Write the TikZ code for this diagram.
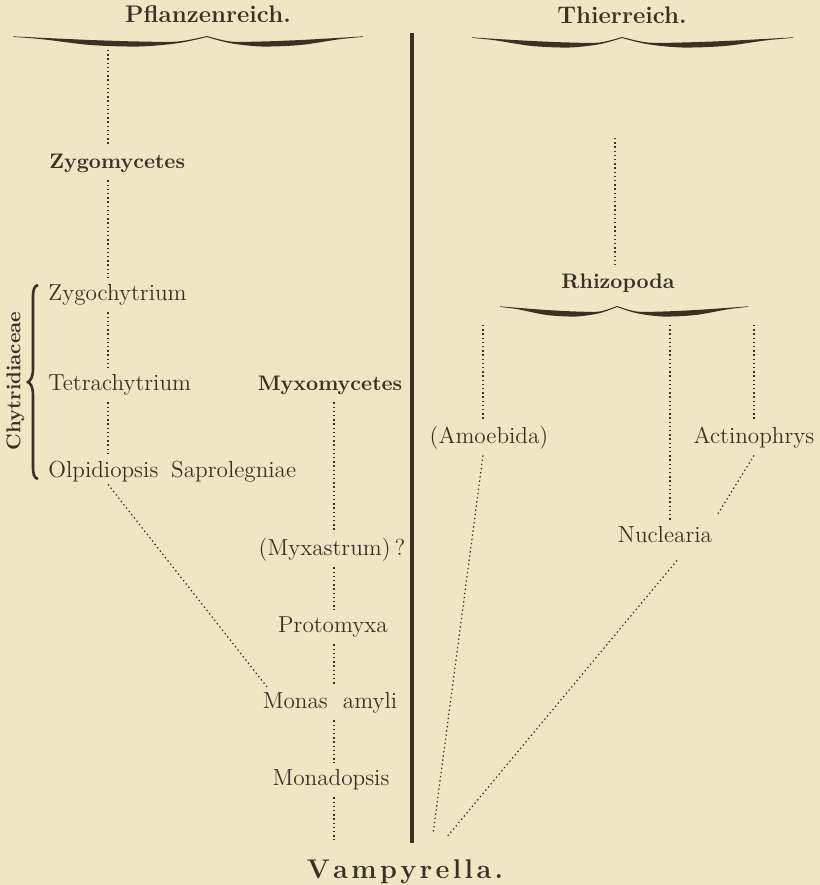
\documentclass[tikz,border=0pt]{standalone}
\usepackage{fontspec}
\usepackage{xcolor}
\usepackage{tikz}
\usetikzlibrary{positioning,calc}
\definecolor{paper}{HTML}{F0E6C4}
\definecolor{ink}{HTML}{3A3122}
\tikzset{
    taxon/.style={
        inner sep=0pt, minimum height=17pt,
        text height=7.6pt, text depth=2.3pt, text=ink,
        font=\fontsize{11.6}{13}\selectfont
    },
    taxonbold/.style={
        taxon,
        font=\fontsize{10.5}{12}\selectfont\bfseries
    },
    realm/.style={
        taxon,
        font=\fontsize{12}{14}\selectfont\bfseries
    },
    genus/.style={
        inner sep=0pt, text=ink,
        font=\fontsize{13.5}{15}\selectfont\bfseries
    },
    dotline/.style={draw=ink, line width=0.75pt, dash pattern=on 0.7pt off 1.4pt},
    finedots/.style={dotline, line width=0.6pt},
    divider/.style={draw=ink, line width=1.8pt},
}
\newcommand{\lsp}{\kern1.7pt}
% tapered brace, tip at (#1,#2), half widths #3 (left) and #4 (right)
\newcommand{\swash}[4]{%
    \begin{scope}[shift={(#1,#2)}]
        \fill[ink] plot[smooth] coordinates {(0,0) ({0.15*#4},5.5) ({0.35*#4},5.5) ({0.6*#4},4) ({0.85*#4},1.8) (#4,0.3)}
            -- plot[smooth] coordinates {(#4,0.9) ({0.85*#4},3.2) ({0.6*#4},9) ({0.35*#4},10.5) ({0.15*#4},7.2) (0,1)} -- cycle;
        \fill[ink] plot[smooth] coordinates {(0,0) ({-0.15*#3},5.5) ({-0.35*#3},5.5) ({-0.6*#3},4) ({-0.85*#3},1.8) (-#3,0.3)}
            -- plot[smooth] coordinates {(-#3,0.9) ({-0.85*#3},3.2) ({-0.6*#3},9) ({-0.35*#3},10.5) ({-0.15*#3},7.2) (0,1)} -- cycle;
    \end{scope}}

\begin{document}
\begin{tikzpicture}[x=0.5pt, y=-0.5pt]
    \fill[paper] (0,0) rectangle (820,885);
    \useasboundingbox (0,0) rectangle (820,885);

    % columns
    \coordinate (lx) at (108,0);
    \coordinate (mx) at (334,0);
    \coordinate (tx) at (615,0);
    \coordinate (a1) at (483,325);
    \coordinate (n1) at (670,325);
    \coordinate (c1) at (754,325);
    \coordinate (pfoot) at (108,50);
    \coordinate (tfoot) at (615,138);
    \coordinate (mfoot) at (334,840);
    \coordinate (vl) at (433,834);
    \coordinate (vr) at (446,838);

    \node[realm] (pflanz) at (208,17) {Pflanzenreich.};
    \node[realm] (thier) at (622,18) {Thierreich.};
    \swash{207}{36}{194}{156}
    \swash{622}{37}{150}{171}
    \draw[divider] (412,33) -- (412,843);

    \node[taxonbold, anchor=west] (zygom) at (49,163) {Zygomycetes};
    \node[taxon, anchor=west] (zygoch) at (48,295) {Zygochytrium};
    \node[taxon, anchor=west] (tetra) at (48,385) {Tetrachytrium};
    \node[taxon, anchor=west] (olpid) at (48,472) {Olpidiopsis\hspace{0.55em}Saprolegniae};
    \node[taxonbold, font=\fontsize{10}{12}\selectfont\bfseries, rotate=90] (chyt) at (15,381) {Chytridiaceae};
    \draw[ink, line width=1.3pt] (38,285) .. controls (34,286) and (33,290) .. (33,298) -- (33,368)
        .. controls (33,377) and (31,380) .. (28,382) .. controls (31,384) and (33,387) .. (33,396)
        -- (33,466) .. controls (33,474) and (34,478) .. (38,479);

    \node[taxonbold] (myxom) at (330,385) {Myxomycetes};
    \node[taxon] (myxa) at (332,550) {(Myxastrum)\,?};
    \node[taxon] (proto) at (333,627) {Protomyxa};
    \node[taxon] (monas) at (330,703) {Monas\hspace{0.65em}amyli};
    \node[taxon] (monad) at (331,780) {Monadopsis};
    \node[genus, anchor=base] (vamp) at (405,878) {V\lsp a\lsp m\lsp p\lsp y\lsp r\lsp e\lsp l\lsp l\lsp a\lsp .};

    \node[taxonbold] (rhizo) at (618,283) {Rhizopoda};
    \swash{617}{306}{117}{131}
    \node[taxon] (amoeb) at (489,438) {(Amoebida)};
    \node[taxon] (actin) at (754,438) {Actinophrys};
    \node[taxon] (nucl) at (665,537) {Nuclearia};

    \draw[dotline] (pfoot) -- (zygom.north -| lx);
    \draw[dotline] (zygom.south -| lx) -- (zygoch.north -| lx);
    \draw[dotline] (zygoch.south -| lx) -- (tetra.north -| lx);
    \draw[dotline] (tetra.south -| lx) -- (olpid.north -| lx);
    \draw[finedots] ($(olpid.south -| lx)+(0,-5)$) -- ($(monas.north west)+(6,3)$);

    \draw[dotline] (myxom.south -| mx) -- (myxa.north -| mx);
    \draw[dotline] (myxa.south -| mx) -- (proto.north -| mx);
    \draw[dotline] (proto.south -| mx) -- (monas.north -| mx);
    \draw[dotline] (monas.south -| mx) -- (monad.north -| mx);
    \draw[dotline] (monad.south -| mx) -- (mfoot);

    \draw[dotline] (tfoot) -- (rhizo.north -| tx);
    \draw[dotline] (a1) -- (amoeb.north -| a1);
    \draw[dotline] (n1) -- (nucl.north -| n1);
    \draw[dotline] (c1) -- (actin.north -| c1);
    \draw[finedots] (amoeb.south -| a1) -- (vl);
    \draw[finedots] (actin.south) -- ($(nucl.north east)+(5,-5)$);
    \draw[finedots] ($(nucl.south)+(12,6)$) -- (vr);
\end{tikzpicture}
\end{document}
